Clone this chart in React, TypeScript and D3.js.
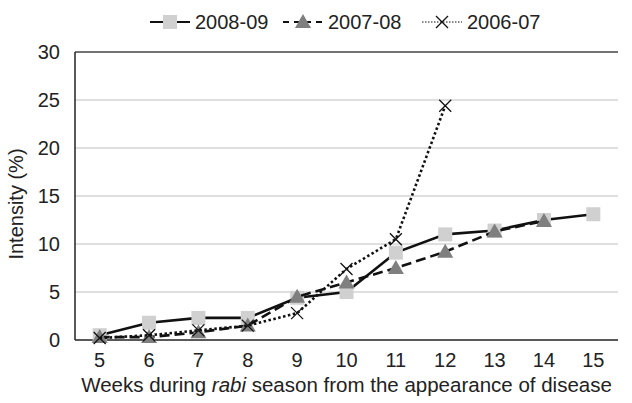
import React, { useEffect, useRef } from 'react';
import * as d3 from 'd3';

const weeks = [5, 6, 7, 8, 9, 10, 11, 12, 13, 14, 15];
const yTicks = [0, 5, 10, 15, 20, 25, 30];

const s200809 = [0.5, 1.8, 2.3, 2.3, 4.4, 5.0, 9.1, 11.0, 11.4, 12.5, 13.1];
const s200708 = [0.3, 0.3, 0.8, 1.5, 4.5, 6.0, 7.5, 9.2, 11.3, 12.4];
const s200607 = [0.2, 0.5, 1.0, 1.5, 2.8, 7.4, 10.5, 24.4];

const seriesNames = ['2008-09', '2007-08', '2006-07'];

export default () => {
  const width = 632;
  const height = 403;
  const svgRef = useRef<SVGSVGElement>(null);

  const left = 75;
  const right = 618;
  const top = 52;
  const bottom = 340;
  const font = '"Liberation Sans", Arial, sans-serif';
  const fontSize = 20;

  useEffect(() => {
    if (!svgRef.current) {
      return;
    }
    const svg = d3.select(svgRef.current);
    svg.selectAll('*').remove();

    const x = d3.scaleBand<number>().domain(weeks).range([left, right]).padding(0);
    const cx = (w: number) => (x(w) || 0) + x.bandwidth() / 2;
    const y = d3.scaleLinear().domain([0, 30]).range([bottom, top]);

    // grid
    svg.append('g')
      .selectAll('line')
      .data(yTicks.filter(t => t > 0))
      .enter()
      .append('line')
      .attr('x1', left)
      .attr('x2', right)
      .attr('y1', d => y(d))
      .attr('y2', d => y(d))
      .attr('stroke', d => (d === 30 ? '#444' : '#d4d4d4'))
      .attr('stroke-width', 1.5);

    // axes
    svg.append('line')
      .attr('x1', left).attr('x2', left)
      .attr('y1', y(30)).attr('y2', y(0))
      .attr('stroke', '#222').attr('stroke-width', 1.5);
    svg.append('line')
      .attr('x1', left).attr('x2', right)
      .attr('y1', y(0)).attr('y2', y(0))
      .attr('stroke', '#222').attr('stroke-width', 1.5);

    svg.append('g')
      .selectAll('text')
      .data(yTicks)
      .enter()
      .append('text')
      .text(d => d)
      .attr('x', 60)
      .attr('y', d => y(d))
      .attr('dy', '0.35em')
      .attr('text-anchor', 'end')
      .style('font-family', font)
      .style('font-size', `${fontSize}px`)
      .attr('fill', '#222');

    svg.append('g')
      .selectAll('text')
      .data(weeks)
      .enter()
      .append('text')
      .text(d => d)
      .attr('x', d => cx(d))
      .attr('y', 360)
      .attr('dy', '0.35em')
      .attr('text-anchor', 'middle')
      .style('font-family', font)
      .style('font-size', `${fontSize}px`)
      .attr('fill', '#222');

    // axis titles
    svg.append('text')
      .attr('transform', `translate(16, ${(top + bottom) / 2 + 8}) rotate(-90)`)
      .attr('dy', '0.35em')
      .attr('text-anchor', 'middle')
      .style('font-family', font)
      .style('font-size', `${fontSize}px`)
      .attr('fill', '#222')
      .text('Intensity (%)');

    const xt = svg.append('text')
      .attr('x', (left + right) / 2)
      .attr('y', 385)
      .attr('dy', '0.35em')
      .attr('text-anchor', 'middle')
      .style('font-family', font)
      .style('font-size', '20.5px')
      .attr('fill', '#222');
    xt.append('tspan').text('Weeks during ');
    xt.append('tspan').style('font-style', 'italic').text('rabi');
    xt.append('tspan').text(' season from the appearance of disease');

    const styles = [
      { dash: null, marker: 'square' },
      { dash: '10,5', marker: 'triangle' },
      { dash: '2.5,2.5', marker: 'x' }
    ];
    const allData = [s200809, s200708, s200607];

    const drawMarker = (g: d3.Selection<SVGGElement, unknown, null, undefined>, kind: string, px: number, py: number) => {
      if (kind === 'square') {
        g.append('rect')
          .attr('x', px - 7).attr('y', py - 7)
          .attr('width', 14).attr('height', 14)
          .attr('fill', '#d0d0d0');
      } else if (kind === 'triangle') {
        g.append('path')
          .attr('d', `M${px},${py - 8}L${px + 8},${py + 6}L${px - 8},${py + 6}Z`)
          .attr('fill', '#7f7f7f');
      } else {
        g.append('path')
          .attr('d', `M${px - 6},${py - 6}L${px + 6},${py + 6}M${px + 6},${py - 6}L${px - 6},${py + 6}`)
          .attr('stroke', '#111')
          .attr('stroke-width', 1.3)
          .attr('fill', 'none');
      }
    };

    allData.forEach((vals, i) => {
      const g = svg.append('g');
      const line = d3.line<number>()
        .x((d, j) => cx(weeks[j]))
        .y(d => y(d));
      g.append('path')
        .datum(vals)
        .attr('d', line)
        .attr('fill', 'none')
        .attr('stroke', '#111')
        .attr('stroke-width', 2.6)
        .attr('stroke-dasharray', styles[i].dash);
      vals.forEach((v, j) => drawMarker(g, styles[i].marker, cx(weeks[j]), y(v)));
    });

    // legend
    const legendY = 22;
    const legendX = [150, 283, 422];
    seriesNames.forEach((name, i) => {
      const g = svg.append('g');
      const x0 = legendX[i];
      g.append('line')
        .attr('x1', x0).attr('x2', x0 + 40)
        .attr('y1', legendY).attr('y2', legendY)
        .attr('stroke', '#111')
        .attr('stroke-width', i === 2 ? 1.2 : 2)
        .attr('stroke-dasharray', i === 1 ? '6,5' : i === 2 ? '1.5,1.5' : null);
      if (i === 0) {
        g.append('rect').attr('x', x0 + 13).attr('y', legendY - 7).attr('width', 14).attr('height', 14).attr('fill', '#d0d0d0');
      } else {
        drawMarker(g, styles[i].marker, x0 + 20, legendY);
      }
      g.append('text')
        .attr('x', x0 + 45)
        .attr('y', legendY)
        .attr('dy', '0.35em')
        .style('font-family', font)
        .style('font-size', `${fontSize}px`)
        .attr('fill', '#222')
        .text(name);
    });
  }, []);

  return (
    <div style={{ position: 'absolute', left: 0, top: 0, width, height }}>
      <svg ref={svgRef} width={width} height={height} style={{ display: 'block', background: '#fff' }} />
    </div>
  );
};
